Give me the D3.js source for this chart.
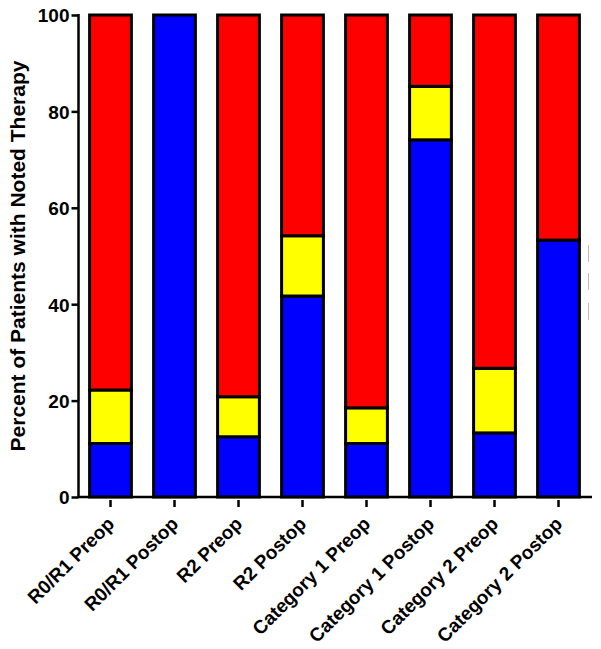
<!DOCTYPE html>
<html><head><meta charset="utf-8">
<script src="https://cdn.jsdelivr.net/npm/d3@7"></script>
<style>body{margin:0;background:#fff}svg{display:block}text{font-family:"Liberation Sans",Arial,sans-serif;font-weight:bold}</style>
</head><body><svg id="c" width="601" height="649"></svg>
<script>
const categories = ["R0/R1 Preop","R0/R1 Postop","R2 Preop","R2 Postop","Category 1 Preop","Category 1 Postop","Category 2 Preop","Category 2 Postop"];
const blueValues   = [11.1, 100, 12.5, 41.7, 11.1, 74.1, 13.3, 53.3];
const yellowValues = [11.1, 0, 8.3, 12.5, 7.4, 11.1, 13.4, 0];
const redValues    = [77.8, 0, 79.2, 45.8, 81.5, 14.8, 73.3, 46.7];
const seriesKeys = ["blue","yellow","red"];
const seriesColors = ["#0000ff","#ffff00","#ff0000"];
const yTicks = [0,20,40,60,80,100];
const yTitle = "Percent of Patients with Noted Therapy";

const svg = d3.select("#c");
const margin = {left:78.5};
const x = d3.scaleBand().domain(categories).range([margin.left, 590.5]).paddingInner(0.3).paddingOuter(0.15);
const y = d3.scaleLinear().domain([0,100]).range([497, 15]);

const table = categories.map((c,i)=>({cat:c, blue:blueValues[i], yellow:yellowValues[i], red:redValues[i]}));
const stack = d3.stack().keys(seriesKeys)(table);

stack.forEach((s,si)=>{
  svg.append("g").selectAll("rect").data(s.filter(d=>d[1]-d[0]>0)).join("rect")
    .attr("x", d=>x(d.data.cat)+1.5)
    .attr("width", x.bandwidth()-3)
    .attr("y", d=>y(d[1]))
    .attr("height", d=>y(d[0])-y(d[1]))
    .attr("fill", seriesColors[si])
    .attr("stroke","#000").attr("stroke-width",3);
});

// y axis
const ya = svg.append("g").attr("transform",`translate(${margin.left},0)`)
  .call(d3.axisLeft(y).tickValues(yTicks).tickSize(7).tickPadding(2));
ya.select(".domain").attr("stroke","#000").attr("stroke-width",2.5).attr("d",`M0,${y(100)-1}V${y(0)+1}`);
ya.selectAll(".tick line").attr("stroke","#000").attr("stroke-width",2.5);
ya.selectAll(".tick text").attr("font-size",19).attr("fill","#000").attr("dy","0.36em");

// x axis
const xa = svg.append("g").attr("transform",`translate(0,${y(0)})`)
  .call(d3.axisBottom(x).tickSize(0));
xa.select(".domain").attr("stroke","#000").attr("stroke-width",2.5).attr("d",`M${margin.left-1},0H592`);
xa.selectAll(".tick").append("line").attr("x1",0).attr("x2",0).attr("y1",3).attr("y2",10).attr("stroke","#000").attr("stroke-width",2.5);
xa.selectAll(".tick text").attr("font-size",19).attr("fill","#000")
  .attr("text-anchor","end").attr("dy",0)
  .attr("transform","translate(5,28) rotate(-45)").attr("y",0).attr("x",0);

// y title
svg.append("text").attr("transform",`translate(25,256) rotate(-90)`)
  .attr("text-anchor","middle").attr("font-size",21).attr("fill","#000").text(yTitle);

// faint remnants at right
[[245,262],[273,290],[303,320]].forEach(([a,b])=>{
  svg.append("line").attr("x1",588.5).attr("x2",588.5).attr("y1",a).attr("y2",b).attr("stroke","#bbb").attr("stroke-width",1);
});
</script></body></html>
